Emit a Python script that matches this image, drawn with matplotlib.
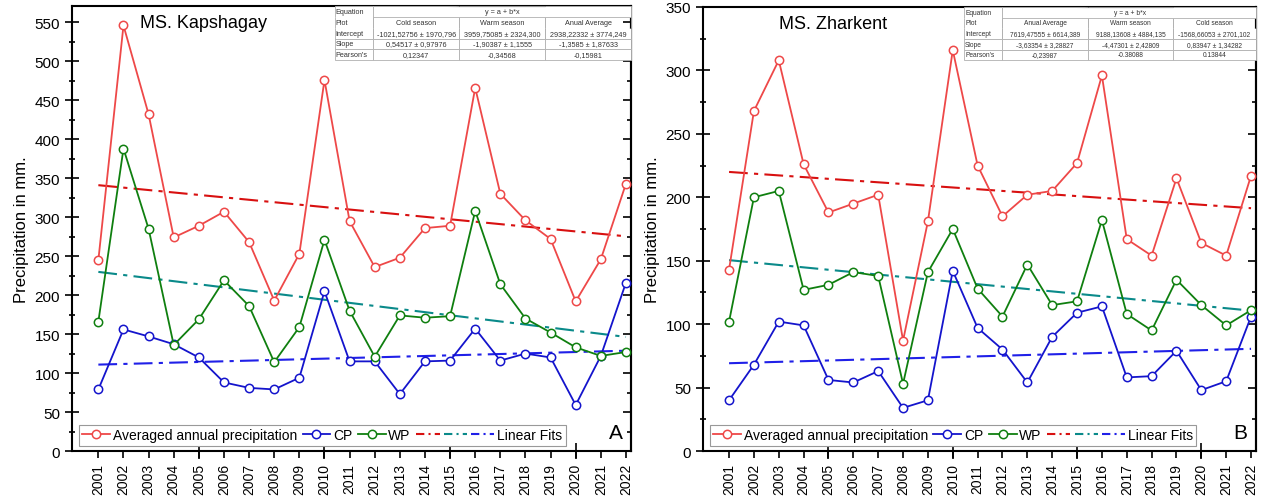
import numpy as np
import matplotlib
matplotlib.use("Agg")
import matplotlib.pyplot as plt
from matplotlib.lines import Line2D
from matplotlib.legend_handler import HandlerTuple
from matplotlib.ticker import MultipleLocator

plt.rcParams['font.family'] = ['Liberation Sans', 'DejaVu Sans']

years = list(range(2001, 2023))

# MS. Kapshagay
kap_avg = [245, 546, 432, 274, 289, 307, 268, 193, 253, 476, 295,
           236, 248, 286, 289, 466, 330, 296, 272, 192, 246, 343]
kap_cp = [79, 156, 147, 137, 120, 88, 81, 79, 94, 205, 115,
          115, 73, 115, 116, 157, 116, 125, 120, 59, 122, 216]
kap_wp = [166, 388, 285, 136, 169, 219, 186, 114, 159, 271, 180,
          121, 174, 171, 173, 308, 214, 170, 152, 133, 122, 127]

# MS. Zharkent
zh_avg = [143, 268, 308, 226, 188, 195, 202, 87, 181, 316, 225,
          185, 202, 205, 227, 296, 167, 154, 215, 164, 154, 217]
zh_cp = [40, 68, 102, 99, 56, 54, 63, 34, 40, 142, 97,
         80, 54, 90, 109, 114, 58, 59, 79, 48, 55, 106]
zh_wp = [102, 200, 205, 127, 131, 141, 138, 53, 141, 175, 128,
         106, 147, 115, 118, 182, 108, 95, 135, 115, 99, 111]

# fit tables (as printed on the original figure)
row_labels = ["Equation", "Plot", "Intercept", "Slope", "Pearson's"]
kap_table = [
    ["", "y = a + b*x", ""],
    ["Cold season", "Warm season", "Anual Average"],
    ["-1021,52756 ± 1970,796", "3959,75085 ± 2324,300", "2938,22332 ± 3774,249"],
    ["0,54517 ± 0,97976", "-1,90387 ± 1,1555", "-1,3585 ± 1,87633"],
    ["0,12347", "-0,34568", "-0,15981"],
]
zh_table = [
    ["", "y = a + b*x", ""],
    ["Anual Average", "Warm season", "Cold season"],
    ["7619,47555 ± 6614,389", "9188,13608 ± 4884,135", "-1568,66053 ± 2701,102"],
    ["-3,63354 ± 3,28827", "-4,47301 ± 2,42809", "0,83947 ± 1,34282"],
    ["-0,23987", "-0.38088", "0.13844"],
]

RED = '#ee4848'
BLUE = '#1414cc'
GREEN = '#0f7f0f'
FIT_RED = '#d81010'
FIT_TEAL = '#0a8a8a'
FIT_BLUE = '#2020e8'


class WideTuple(HandlerTuple):
    def legend_artist(self, legend, orig_handle, fontsize, handlebox):
        handlebox.width *= 2.8
        return super().legend_artist(legend, orig_handle, fontsize, handlebox)


def panel(ax, avg, cp, wp, title, title_y, ymax, letter, table, colw, tbox, tfs):
    x = np.array(years)
    lines = []
    for vals, c in [(avg, RED), (cp, BLUE), (wp, GREEN)]:
        ln, = ax.plot(x, vals, color=c, lw=1.3, marker='o', ms=6,
                      mfc='white', mec=c, mew=1.1, zorder=3)
        lines.append(ln)
    fit_cols = [FIT_RED, FIT_TEAL, FIT_BLUE]
    for vals, c in zip([avg, wp, cp], fit_cols):
        b, a = np.polyfit(x, vals, 1)
        ax.plot(x, a + b * x, color=c, lw=1.5, dashes=(9, 3, 2, 3), zorder=2)
    fit_proxies = tuple(Line2D([], [], color=c, lw=1.5, dashes=(4, 2, 1, 2))
                        for c in fit_cols)

    ax.set_xlim(1999.95, 2022.2)
    ax.set_ylim(0, ymax)
    ax.set_xticks(years)
    ax.set_xticklabels([str(y) for y in years], rotation=90, fontsize=10)
    ax.xaxis.remove_overlapping_locs = False
    ax.set_xticks([2005, 2010, 2015, 2020], minor=True)
    ax.tick_params(axis='x', which='major', direction='out', length=5, width=1.2)
    ax.tick_params(axis='x', which='minor', direction='inout', length=12, width=1.2)
    ax.yaxis.set_major_locator(MultipleLocator(50))
    ax.yaxis.set_minor_locator(MultipleLocator(25))
    ax.tick_params(axis='y', which='major', direction='inout', length=10, width=1.2,
                   labelsize=11)
    ax.tick_params(axis='y', which='minor', direction='inout', length=5, width=1.2)
    for s in ax.spines.values():
        s.set_linewidth(1.5)
    ax.set_ylabel("Precipitation in mm.", fontsize=12, labelpad=4)

    # inward ticks on the right spine
    sec = ax.secondary_yaxis('right')
    sec.yaxis.set_major_locator(MultipleLocator(50))
    sec.yaxis.set_minor_locator(MultipleLocator(25))
    sec.tick_params(which='major', direction='in', length=6, width=1.2, labelright=False)
    sec.tick_params(which='minor', direction='in', length=3, width=1.2)
    sec.spines['right'].set_linewidth(1.5)

    ax.text(2005.2, title_y, title, fontsize=13, ha='center', va='center')
    ax.text(0.985, 0.02, letter, transform=ax.transAxes, fontsize=15,
            ha='right', va='bottom')

    leg = ax.legend([lines[0], lines[1], lines[2], fit_proxies],
                    ["Averaged annual precipitation", "CP", "WP", "Linear Fits"],
                    handler_map={tuple: WideTuple(ndivide=None, pad=0.3)},
                    loc='lower left', bbox_to_anchor=(0.012, 0.012), borderaxespad=0,
                    ncol=4, fontsize=10, handlelength=2.0, handletextpad=0.2,
                    columnspacing=0.4, borderpad=0.25, frameon=True,
                    fancybox=False, edgecolor='#999999', framealpha=1)
    leg.get_frame().set_linewidth(0.8)

    cells = [[row_labels[i]] + table[i] for i in range(len(row_labels))]
    tb = ax.table(cellText=cells, colWidths=colw, bbox=tbox, cellLoc='center')
    tb.auto_set_font_size(False)
    tb.set_fontsize(tfs)
    for (r, c), cell in tb.get_celld().items():
        cell.set_edgecolor('#b0b0b0')
        cell.set_linewidth(0.6)
        cell.set_facecolor('white')
        cell.get_text().set_color('#333333')
        if c == 0:
            cell.get_text().set_ha('left')
            cell.PAD = 0.03
        if r == 0 and c > 0:
            cell.visible_edges = {1: 'BTL', 2: 'BT', 3: 'BTR'}[c]
        if r == 1 and c > 0:
            cell.visible_edges = 'LR'
        if r == 2 and c > 0:
            cell.visible_edges = 'LRB'
        if c == 0 and r in (0, 1):
            cell.visible_edges = 'LR' if r == 1 else 'LRT'
        if c == 0 and r == 2:
            cell.visible_edges = 'LRB'
    tb.set_zorder(5)


fig = plt.figure(figsize=(12.65, 5.02), dpi=100)
ax1 = fig.add_axes([0.0569, 0.0996, 0.4419, 0.8865])
ax2 = fig.add_axes([0.5557, 0.0996, 0.4372, 0.8845])

panel(ax1, kap_avg, kap_cp, kap_wp, "MS. Kapshagay", 550, 571, "A",
      kap_table, [0.13, 0.29, 0.29, 0.29], [0.47, 0.878, 0.53, 0.122], 5.2)
panel(ax2, zh_avg, zh_cp, zh_wp, "MS. Zharkent", 337, 350, "B",
      zh_table, [0.13, 0.295, 0.29, 0.285], [0.472, 0.880, 0.528, 0.12], 4.8)

fig.savefig("out.png", dpi=100)
